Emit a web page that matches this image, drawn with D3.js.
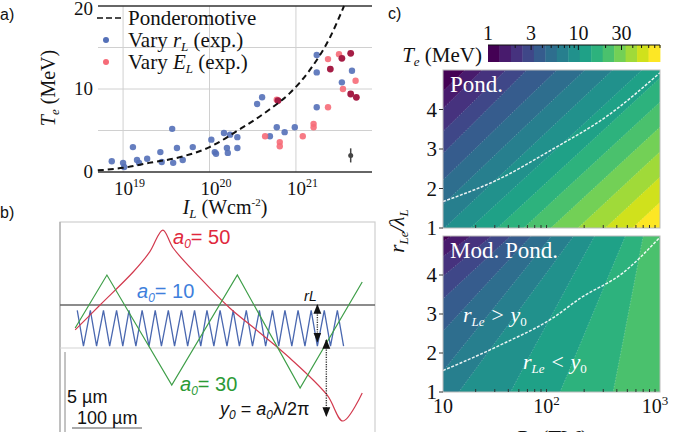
<!DOCTYPE html>
<html><head><meta charset="utf-8">
<script src="https://cdn.jsdelivr.net/npm/d3@7"></script>
<style>body{margin:0;background:#fff} svg{display:block}</style>
</head><body><svg id="c" width="675" height="432"></svg>
<script>
// ---------------- DATA ----------------
// Panel a: ponderomotive curve
const pondI  = [5.1e18, 1e19, 2e19, 4.6e19, 1e20, 2.2e20, 4.9e20, 8.5e20, 1.45e21, 2.5e21, 3.6e21];
const pondTe = [0.2, 0.5, 1.1, 1.8, 3.0, 5.1, 7.5, 9.5, 12.3, 16.3, 20];
// Vary r_L (blue)
const rLI  = [7.4e18,1e19,1.03e19,1.3e19,1.45e19,1.53e19,1.9e19,2.7e19,2.8e19,3.7e19,3.8e19,4.2e19,4.9e19,6.4e19,1.05e20,1.15e20,1.19e20,1.47e20,1.59e20,1.63e20,1.73e20,2.1e20,2.1e20,3.55e20,4.06e20,5.0e20,6.0e20,7.4e20,9.7e20,1.74e21,1.74e21,1.74e21,3.4e21,4.45e21];
const rLTe = [1.3,1.1,0.6,3.0,1.45,1.1,1.6,2.4,1.2,5.2,1.1,2.9,1.45,3.0,3.9,2.4,2.2,4.7,2.9,2.3,4.5,2.9,4.2,8.2,9.0,4.3,5.4,4.8,5.4,14.1,12.0,7.8,10.8,12.2];
// Vary E_L (pink)
const eLI  = [4.4e20,6.5e20,6.5e20,1.2e21,1.6e21,1.6e21,2.35e21,2.35e21,3.15e21,4.9e21,3.5e21,6.0e20];
const eLTe = [4.3,3.6,3.1,4.3,5.8,5.4,13.6,7.8,14.2,11.0,10.0,8.7];
// Vary E_L dark points
const eLdI  = [6.2e20,2.5e21,3.4e21,4.3e21,4.3e21,5.0e21];
const eLdTe = [8.6,12.4,13.7,14.3,9.4,9.0];
const errI = [4.3e21], errTe = [2.0], errHalf = [0.85];
const aXTicks = [1e19, 1e20, 1e21], aXExp = ["19","20","21"];
const aYTicks = [0, 10, 20], aYGrid = [5, 10, 15];

// Panel b: schematic trajectories (x in um, y in um; 0 = laser axis)
const redX = [22, 58, 106, 130, 149, 164, 203, 246, 290, 333, 387, 410, 438];
const redY = [-1.64, 0, 2.17, 3.49, 4.93, 3.75, 1.78, -0.20, -1.84, -3.49, -5.92, -7.63, -5.79];
const greenX = [22, 68, 162, 257, 348, 438];
const greenY = [-1.51, 1.97, -5.26, 1.97, -5.46, 1.51];
const blueX = [25,34,44,53,63,72,82,91,100,110,119,129,138,147,157,166,176,185,195,204,213,223,232,242,251,260,270,279,289,298,308,317,326,336,345,355,364,373,383,392,402,411];
const blueY = [-0.35,-2.7,-0.35,-2.7,-0.35,-2.7,-0.35,-2.7,-0.35,-2.7,-0.35,-2.7,-0.35,-2.7,-0.35,-2.7,-0.35,-2.7,-0.35,-2.7,-0.35,-2.7,-0.35,-2.7,-0.35,-2.7,-0.35,-2.7,-0.35,-2.7,-0.35,-2.7,-0.35,-2.7,-0.35,-2.7,-0.35,-2.7,-0.35,-2.7,-0.35,-2.7];

// Panel c: colour bar levels (MeV) and contour boundaries P(TW) at r = 1..5
const cbarTicks = [1, 3, 10, 30];
const cbarMax = 80, nBands = 15;
const boundR = [1, 2, 3, 4, 5];
const pondBoundP = [
 [0.475,1.15,2.77,6.65,16],[0.762,1.78,4.17,9.8,23],[1.24,2.92,6.86,16.1,38],
 [2.06,4.77,11.0,25.5,59],[3.48,8.3,19.7,46.8,112],[5.94,14.3,34.5,83.5,203],
 [10.3,25.1,61.4,150,366],[17.9,44.5,111,276,684],[31.6,78.4,195,484,1200],
 [55.4,137,340,843,2100],[98.4,244,604,1497,3700],[175,432,1067,2635,6500],
 [313,771,1897,4670,11500],[557,1366,3350,8200,20000]];
const modBoundP = [
 [0.08,0.27,0.92,3.2,12],[0.2,0.62,1.9,5.9,18],[0.5,1.37,3.75,10.3,28],
 [1.2,2.9,7.1,17.2,42],[3,6.5,14,30,65],[7,13.6,26.5,51.5,100],
 [14,25.7,47.3,87,160],[42,65,102,159,250],[120,170,240,339,480],
 [370,435,510,598,700]];
const pondDashP = [10, 33.5, 103, 324, 1000], pondDashR = [1.67, 2.25, 3.0, 3.83, 4.93];
const modDashP = [10, 33.5, 103, 183, 453, 1000], modDashR = [1.55, 2.2, 2.9, 3.4, 4.05, 4.97];
const mapYTicks = [1, 2, 3, 4];
const mapXTicks = [10, 100, 1000], mapXExp = ["", "2", "3"];

// ---------------- DRAWING ----------------
const svg = d3.select('#c');
const SERIF = "'Liberation Serif'";
const SANS = "'Liberation Sans'";

function rich(g, x, y, parts, o) {
  o = o || {};
  const fam = o.sans ? SANS : SERIF;
  const size = o.size || 18;
  const t = g.append('text').attr('x', x).attr('y', y)
    .style('font-family', fam).style('font-size', size + 'px')
    .attr('fill', o.fill || '#111').attr('text-anchor', o.anchor || 'start');
  let shift = 0;
  parts.forEach(p => {
    const ts = t.append('tspan').text(p.t)
      .style('font-family', fam)
      .style('font-size', (p.s || size) + 'px')
      .style('font-style', p.i ? 'italic' : 'normal');
    const target = p.sub != null ? p.sub : (p.sup != null ? -p.sup : 0);
    if (target - shift !== 0) ts.attr('dy', target - shift);
    shift = target;
  });
  return t;
}

// panel labels
[['a)', 0, 20], ['b)', 0, 218], ['c)', 388, 19]].forEach(([t, x, y]) => rich(svg, x, y, [{t}], {sans: 1, size: 16}));

// ===== Panel a =====
(function () {
  const g = svg.append('g');
  const x = d3.scaleLog().domain([Math.pow(10, 18.71), Math.pow(10, 21.88)]).range([98, 372]);
  const y = d3.scaleLinear().domain([0, 20]).range([172, 6]);
  aXTicks.forEach(v => g.append('line').attr('x1', x(v)).attr('x2', x(v)).attr('y1', 6).attr('y2', 172).attr('stroke', '#d0d0d0').attr('stroke-width', 1));
  aYGrid.forEach(v => g.append('line').attr('x1', 98).attr('x2', 372).attr('y1', y(v)).attr('y2', y(v)).attr('stroke', '#d0d0d0').attr('stroke-width', 1));
  [0, 20].forEach(v => g.append('line').attr('x1', 98).attr('x2', 372).attr('y1', y(v)).attr('y2', y(v)).attr('stroke', '#333').attr('stroke-width', 1.6));
  aYTicks.forEach(v => rich(g, 93, Math.max(y(v) + 6, 15), [{t: String(v)}], {anchor: 'end', size: 19}));
  aXTicks.forEach((v, i) => rich(g, x(v) - 9, 195, [{t: '10'}, {t: aXExp[i], sup: 8, s: 12}], {anchor: 'start', size: 19}));
  rich(g, 225, 214, [{t: 'I', i: true}, {t: 'L', i: true, sub: 4, s: 13}, {t: ' (Wcm', sub: 0}, {t: '-2', sup: 8, s: 11}, {t: ')', sup: 0}], {anchor: 'middle', size: 20});
  const yl = g.append('g').attr('transform', 'translate(55,88) rotate(-90)');
  rich(yl, 0, 0, [{t: 'T', i: true}, {t: 'e', i: true, sub: 4, s: 13}, {t: ' (MeV)', sub: 0}], {anchor: 'middle', size: 20});

  const ptsB = rLI.map((v, i) => [v, rLTe[i]]);
  const ptsP = eLI.map((v, i) => [v, eLTe[i]]);
  const ptsD = eLdI.map((v, i) => [v, eLdTe[i]]);
  g.selectAll('.pb').data(ptsB).enter().append('circle').attr('cx', d => x(d[0])).attr('cy', d => y(d[1])).attr('r', 3.2).attr('fill', '#5470b8').attr('opacity', 0.9);
  g.selectAll('.pp').data(ptsP).enter().append('circle').attr('cx', d => x(d[0])).attr('cy', d => y(d[1])).attr('r', 3.2).attr('fill', '#f66b78').attr('opacity', 0.9);
  g.selectAll('.pd').data(ptsD).enter().append('circle').attr('cx', d => x(d[0])).attr('cy', d => y(d[1])).attr('r', 3.4).attr('fill', '#a51d45');
  errI.forEach((v, i) => {
    g.append('line').attr('x1', x(v)).attr('x2', x(v)).attr('y1', y(errTe[i] - errHalf[i])).attr('y2', y(errTe[i] + errHalf[i])).attr('stroke', '#444').attr('stroke-width', 1.5);
    g.append('circle').attr('cx', x(v)).attr('cy', y(errTe[i])).attr('r', 2.5).attr('fill', '#444');
  });
  const line = d3.line().x(d => x(d[0])).y(d => y(d[1])).curve(d3.curveMonotoneX);
  g.append('path').attr('d', line(pondI.map((v, i) => [v, pondTe[i]]))).attr('fill', 'none').attr('stroke', '#111').attr('stroke-width', 2).attr('stroke-dasharray', '6,4');
  // legend
  g.append('line').attr('x1', 97).attr('x2', 122).attr('y1', 18).attr('y2', 18).attr('stroke', '#111').attr('stroke-width', 1.6).attr('stroke-dasharray', '6,3');
  rich(g, 128, 25, [{t: 'Ponderomotive'}], {size: 21});
  g.append('circle').attr('cx', 106).attr('cy', 40).attr('r', 3).attr('fill', '#5470b8');
  rich(g, 128, 47, [{t: 'Vary '}, {t: 'r', i: true}, {t: 'L', i: true, sub: 4, s: 13}, {t: ' (exp.)', sub: 0}], {size: 21});
  g.append('circle').attr('cx', 106).attr('cy', 62).attr('r', 3).attr('fill', '#f66b78');
  rich(g, 128, 69, [{t: 'Vary '}, {t: 'E', i: true}, {t: 'L', i: true, sub: 4, s: 13}, {t: ' (exp.)', sub: 0}], {size: 21});
})();

// ===== Panel b =====
(function () {
  const g = svg.append('g');
  const x = d3.scaleLinear().domain([0, 100]).range([60, 129]);
  const y = d3.scaleLinear().domain([0, 5]).range([305, 229]);
  g.append('rect').attr('x', 60).attr('y', 222).attr('width', 315).attr('height', 230).attr('fill', 'none').attr('stroke', '#cfcfcf').attr('stroke-width', 1.2);
  g.append('line').attr('x1', 60).attr('x2', 60).attr('y1', 222).attr('y2', 432).attr('stroke', '#aaa').attr('stroke-width', 1.2);
  g.append('line').attr('x1', 60).attr('x2', 375).attr('y1', y(0)).attr('y2', y(0)).attr('stroke', '#666').attr('stroke-width', 1.6);
  g.append('line').attr('x1', 60).attr('x2', 375).attr('y1', y(-2.83)).attr('y2', y(-2.83)).attr('stroke', '#d4d4d4').attr('stroke-width', 1.2);
  const line = d3.line().x(d => x(d[0])).y(d => y(d[1]));
  g.append('path').attr('d', line(blueX.map((v, i) => [v, blueY[i]]))).attr('fill', 'none').attr('stroke', '#4a68b0').attr('stroke-width', 1.3);
  g.append('path').attr('d', line.curve(d3.curveCatmullRom)(redX.map((v, i) => [v, redY[i]]))).attr('fill', 'none').attr('stroke', '#d23a4e').attr('stroke-width', 1.2);
  g.append('path').attr('d', d3.line().x(d => x(d[0])).y(d => y(d[1]))(greenX.map((v, i) => [v, greenY[i]]))).attr('fill', 'none').attr('stroke', '#3e9e48').attr('stroke-width', 1.2);
  // arrows
  const defs = svg.append('defs');
  defs.append('marker').attr('id', 'ah').attr('viewBox', '0 0 10 10').attr('refX', 9).attr('refY', 5)
    .attr('markerWidth', 7).attr('markerHeight', 7).attr('orient', 'auto-start-reverse')
    .append('path').attr('d', 'M0,1 L10,5 L0,9 z').attr('fill', '#111');
  [[373, 0, -2.4], [386, -2.3, -7.3]].forEach(([xx, a, b]) => {
    g.append('line').attr('x1', x(xx)).attr('x2', x(xx)).attr('y1', y(a)).attr('y2', y(b))
      .attr('stroke', '#333').attr('stroke-width', 1.4).attr('stroke-dasharray', '1.2,1.2')
      .attr('marker-start', 'url(#ah)').attr('marker-end', 'url(#ah)');
  });
  // scale bars
  g.append('line').attr('x1', 65).attr('x2', 65).attr('y1', 352).attr('y2', 432).attr('stroke', '#888').attr('stroke-width', 1);
  g.append('line').attr('x1', 72).attr('x2', 142).attr('y1', 428).attr('y2', 428).attr('stroke', '#555').attr('stroke-width', 1);
  rich(g, 67, 403, [{t: '5 µm'}], {sans: 1, size: 18});
  rich(g, 77, 424, [{t: '100 µm'}], {sans: 1, size: 18});
  rich(g, 173, 244, [{t: 'a', i: true}, {t: '0', i: true, sub: 4, s: 12}, {t: '= 50', sub: 0}], {sans: 1, size: 20, fill: '#e0283c'});
  rich(g, 137, 298, [{t: 'a', i: true}, {t: '0', i: true, sub: 4, s: 12}, {t: '= 10', sub: 0}], {sans: 1, size: 20, fill: '#3f7fdc'});
  rich(g, 180, 391, [{t: 'a', i: true}, {t: '0', i: true, sub: 4, s: 12}, {t: '= 30', sub: 0}], {sans: 1, size: 20, fill: '#2b9a35'});
  rich(g, 220, 415, [{t: 'y', i: true}, {t: '0', i: true, sub: 4, s: 12}, {t: ' = ', sub: 0}, {t: 'a', i: true}, {t: '0', i: true, sub: 4, s: 12}, {t: 'λ/2π', sub: 0}], {sans: 1, size: 18});
  rich(g, 304, 301, [{t: 'r', i: true}, {t: 'L', i: true, s: 14}], {sans: 1, size: 15});
})();

// ===== Panel c =====
(function () {
  const g = svg.append('g');
  const edges = d3.range(nBands + 1).map(k => Math.pow(cbarMax, k / nBands));
  const col = k => d3.interpolateViridis(k / (nBands - 1));
  // colour bar
  const cx = d3.scaleLog().domain([1, cbarMax]).range([488, 660]);
  d3.range(nBands).forEach(k => g.append('rect').attr('x', cx(edges[k])).attr('y', 45).attr('width', cx(edges[k + 1]) - cx(edges[k]) + 0.4).attr('height', 17).attr('fill', col(k)));
  g.append('line').attr('x1', 488).attr('x2', 660).attr('y1', 45).attr('y2', 45).attr('stroke', '#111').attr('stroke-width', 1.2);
  const minor = [2,3,4,5,6,7,8,9,10,20,30,40,50,60,70,80];
  minor.forEach(v => g.append('line').attr('x1', cx(v)).attr('x2', cx(v)).attr('y1', 45).attr('y2', cbarTicks.includes(v) ? 50 : 48).attr('stroke', '#111').attr('stroke-width', 1));
  cbarTicks.forEach(v => rich(g, cx(v), 40, [{t: String(v)}], {anchor: 'middle', size: 20}));
  rich(g, 482, 62, [{t: 'T', i: true}, {t: 'e', i: true, sub: 4, s: 13}, {t: ' (MeV)', sub: 0}], {anchor: 'end', size: 21});

  function drawMap(id, y0, h, bounds, dashP, dashR, label) {
    const x0 = 443, w = 217;
    const xs = d3.scaleLog().domain([10, 1000]).range([x0, x0 + w]);
    const ys = d3.scaleLinear().domain([1, 5]).range([y0 + h, y0]);
    svg.append('defs').append('clipPath').attr('id', id).append('rect').attr('x', x0).attr('y', y0).attr('width', w).attr('height', h);
    const m = g.append('g').attr('clip-path', `url(#${id})`);
    m.append('rect').attr('x', x0).attr('y', y0).attr('width', w).attr('height', h).attr('fill', col(0));
    const lg = d3.line().curve(d3.curveCatmullRom);
    bounds.forEach((bp, i) => {
      const k = i + 1;
      let pts = bp.map((P, j) => [xs(P), ys(boundR[j])]);
      const a = pts[0], b = pts[1];
      const n = pts.length;
      const c = pts[n - 1], d = pts[n - 2];
      const extB = [a[0] + (a[0] - b[0]) * 2, a[1] + (a[1] - b[1]) * 2];
      const extT = [c[0] + (c[0] - d[0]) * 2, c[1] + (c[1] - d[1]) * 2];
      const full = [extB].concat(pts, [extT]);
      const path = lg(full) + `L${x0 + w + 2000},${extT[1]}L${x0 + w + 2000},${extB[1]}Z`;
      m.append('path').attr('d', path).attr('fill', col(k));
      m.append('path').attr('d', lg(full)).attr('fill', 'none').attr('stroke', '#fff').attr('stroke-opacity', 0.28).attr('stroke-width', 0.8).attr('stroke-dasharray', '1.5,1.5');
    });
    m.append('path').attr('d', d3.line().x(d => xs(d[0])).y(d => ys(d[1])).curve(d3.curveMonotoneX)(dashP.map((v, i) => [v, dashR[i]])))
      .attr('fill', 'none').attr('stroke', '#fff').attr('stroke-width', 1.5).attr('stroke-dasharray', '3,1.5').attr('opacity', 0.9);
    g.append('rect').attr('x', x0).attr('y', y0).attr('width', w).attr('height', h).attr('fill', 'none').attr('stroke', '#bbb').attr('stroke-width', 1);
    mapYTicks.forEach(v => {
      g.append('line').attr('x1', x0 - 4).attr('x2', x0).attr('y1', ys(v)).attr('y2', ys(v)).attr('stroke', '#333');
      rich(g, 437, ys(v) + 7, [{t: String(v)}], {anchor: 'end', size: 21});
    });
    [20,30,40,50,60,70,80,90,200,300,400,500,600,700,800,900].forEach(v => g.append('line').attr('x1', xs(v)).attr('x2', xs(v)).attr('y1', y0 + h).attr('y2', y0 + h - 3).attr('stroke', '#333'));
    rich(g, x0 + 7, y0 + 22, [{t: label}], {size: 23, fill: '#fff'});
    return {xs, ys};
  }
  drawMap('mapTop', 70, 158, pondBoundP, pondDashP, pondDashR, 'Pond.');
  const bm = drawMap('mapBot', 236, 156, modBoundP, modDashP, modDashR, 'Mod. Pond.');
  mapXTicks.forEach((v, i) => rich(g, bm.xs(v) - (i === 0 ? 0 : 5), 413, [{t: '10'}, {t: mapXExp[i], sup: 8, s: 13}], {anchor: 'middle', size: 20}));
  rich(g, 552, 445, [{t: 'P', i: true}, {t: 'L', i: true, sub: 4, s: 13}, {t: ' (TW)', sub: 0}], {anchor: 'middle', size: 21});
  const yl = g.append('g').attr('transform', 'translate(404,231) rotate(-90)');
  rich(yl, 0, 0, [{t: 'r', i: true}, {t: 'Le', i: true, sub: 4, s: 13}, {t: '/λ', i: true, sub: 0}, {t: 'L', i: true, sub: 4, s: 13}], {anchor: 'middle', size: 21});
  rich(g, 463, 322, [{t: 'r', i: true}, {t: 'Le', i: true, sub: 4, s: 13}, {t: ' > ', sub: 0, i: true}, {t: 'y', i: true}, {t: '0', sub: 4, s: 13}], {size: 22, fill: '#fff'});
  rich(g, 523, 369, [{t: 'r', i: true}, {t: 'Le', i: true, sub: 4, s: 13}, {t: ' < ', sub: 0, i: true}, {t: 'y', i: true}, {t: '0', sub: 4, s: 13}], {size: 22, fill: '#fff'});
})();
</script></body></html>
